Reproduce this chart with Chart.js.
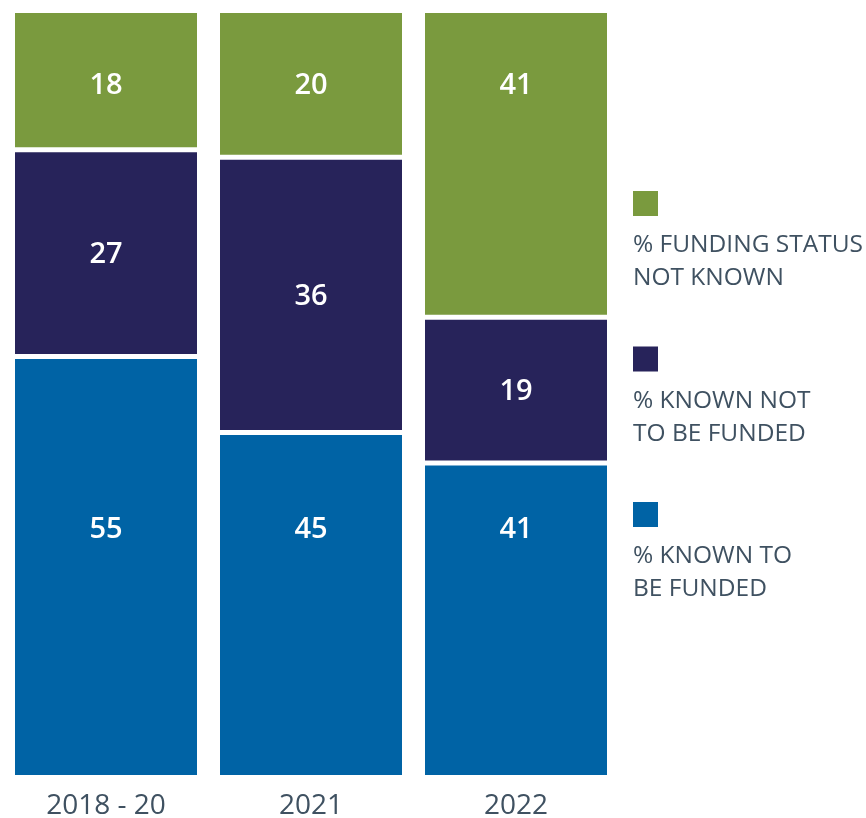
<!DOCTYPE html>
<html>
<head>
<meta charset="utf-8">
<script src="https://cdn.jsdelivr.net/npm/chart.js@4.4.1/dist/chart.umd.min.js"></script>
<style>
  html, body { margin: 0; padding: 0; background: #fff; }
  #wrap { width: 866px; height: 818px; }
</style>
</head>
<body>
<div id="wrap"><canvas id="fundingChart" width="866" height="818"></canvas></div>
<script>
// Data
const categories = ['2018 - 20', '2021', '2022'];
const knownFunded = [55, 45, 41];
const knownNotFunded = [27, 36, 19];
const statusUnknown = [18, 20, 41];
const legendLines = [
    ['% FUNDING STATUS', 'NOT KNOWN'],
    ['% KNOWN NOT', 'TO BE FUNDED'],
    ['% KNOWN TO', 'BE FUNDED']
];

const GREEN = '#7a9a3e';
const NAVY = '#27235a';
const BLUE = '#0063a5';
const TEXT = '#3f5161';
const FONT = '"Open Sans", "Noto Sans", sans-serif';

// Valeurs dans les segments
const valueLabels = {
    id: 'valueLabels',
    afterDatasetsDraw(chart) {
        const ctx = chart.ctx;
        const area = chart.chartArea;
        ctx.save();
        ctx.fillStyle = '#ffffff';
        ctx.font = '600 29px ' + FONT;
        ctx.textAlign = 'center';
        ctx.textBaseline = 'middle';
        chart.data.datasets.forEach((ds, i) => {
            chart.getDatasetMeta(i).data.forEach((bar, j) => {
                let y;
                if (ds.labelAnchor === 'end') {
                    y = Math.max(bar.y, area.top) + 73;
                } else if (ds.labelAnchor === 'start') {
                    y = bar.base - 245;
                } else {
                    y = (bar.y + bar.base) / 2 + 2;
                }
                ctx.fillText(String(ds.data[j]), bar.x, y);
            });
        });
        ctx.restore();
    }
};

// Légende à droite, du haut vers le bas
const sideLegend = {
    id: 'sideLegend',
    afterDraw(chart) {
        const ctx = chart.ctx;
        const order = [2, 1, 0];
        ctx.save();
        ctx.font = '24.5px ' + FONT;
        ctx.textAlign = 'left';
        ctx.textBaseline = 'alphabetic';
        order.forEach((dsIndex, k) => {
            const ds = chart.data.datasets[dsIndex];
            const top = 191 + k * 155.5;
            ctx.fillStyle = ds.backgroundColor;
            ctx.fillRect(633, top, 25, 25);
            ctx.fillStyle = TEXT;
            legendLines[k].forEach((line, n) => {
                ctx.fillText(line, 633, top + 61 + n * 33);
            });
        });
        ctx.restore();
    }
};

new Chart(document.getElementById('fundingChart'), {
    type: 'bar',
    data: {
        labels: categories,
        datasets: [
            {
                label: '% KNOWN TO BE FUNDED',
                data: knownFunded,
                backgroundColor: BLUE,
                borderColor: '#ffffff',
                borderWidth: { top: 3, bottom: 0, left: 0, right: 0 },
                borderSkipped: false,
                labelAnchor: 'start'
            },
            {
                label: '% KNOWN NOT TO BE FUNDED',
                data: knownNotFunded,
                backgroundColor: NAVY,
                borderColor: '#ffffff',
                borderWidth: { top: 2, bottom: 2, left: 0, right: 0 },
                borderSkipped: false,
                labelAnchor: 'center'
            },
            {
                label: '% FUNDING STATUS NOT KNOWN',
                data: statusUnknown,
                backgroundColor: GREEN,
                borderColor: '#ffffff',
                borderWidth: { top: 0, bottom: 3, left: 0, right: 0 },
                borderSkipped: false,
                labelAnchor: 'end'
            }
        ]
    },
    options: {
        responsive: false,
        animation: false,
        layout: { padding: { top: 13, left: 3.5, right: 247.5, bottom: -19 } },
        datasets: {
            bar: { barPercentage: 182 / 205, categoryPercentage: 1 }
        },
        plugins: {
            legend: { display: false },
            tooltip: { enabled: false }
        },
        scales: {
            x: {
                stacked: true,
                grid: { display: false, drawTicks: false },
                border: { display: false },
                ticks: {
                    color: TEXT,
                    padding: 17,
                    font: { family: FONT, size: 28, lineHeight: 1 }
                }
            },
            y: {
                stacked: true,
                display: false,
                min: 0,
                max: 100
            }
        }
    },
    plugins: [valueLabels, sideLegend]
});
</script>
</body>
</html>
